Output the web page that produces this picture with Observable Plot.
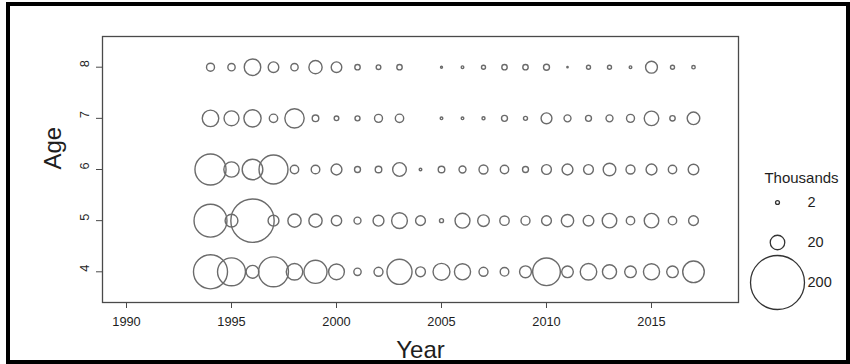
<!DOCTYPE html>
<html>
<head>
<meta charset="utf-8">
<script src="https://cdn.jsdelivr.net/npm/d3@7"></script>
<script src="https://cdn.jsdelivr.net/npm/@observablehq/plot@0.6"></script>
<style>
  html, body { margin: 0; padding: 0; background: #fff; }
  #wrap { position: relative; width: 850px; height: 364px; overflow: hidden; font-family: "Liberation Sans", Arial, sans-serif; }
  #wrap svg { position: absolute; top: 0; overflow: visible; }
  #border { position: absolute; left: 6px; top: 2px; right: 0; bottom: 0; border: 4px solid #000; box-sizing: border-box; pointer-events: none; }
</style>
</head>
<body>
<div id="wrap"><div id="border"></div></div>
<script>
// Survey years and catch at age (thousands of fish); null = no fish recorded
const years = [1994, 1995, 1996, 1997, 1998, 1999, 2000, 2001, 2002, 2003, 2004, 2005,
               2006, 2007, 2008, 2009, 2010, 2011, 2012, 2013, 2014, 2015, 2016, 2017];
const age4 = [89, 63, 16, 71, 25, 45, 23, 6, 8.6, 52, 10, 26, 24, 8.6, 8, 14, 62, 13.5, 25, 19, 13.5, 24, 13.5, 40];
const age5 = [84, 16, 136, 12, 17, 17, 11, 5.5, 12, 23, 10, 2.1, 21, 13.5, 9.3, 8.6, 10, 15, 11.5, 20, 7.6, 20, 7.6, 10];
const age6 = [76, 22, 37, 67, 7.6, 8, 12, 4.2, 5, 18, 1, 5, 5.5, 8.6, 7.6, 4.2, 10, 12, 10, 15.6, 8.6, 12, 7.6, 11.5];
const age7 = [25, 21, 27, 7.6, 33, 5, 2.7, 3.1, 7, 7.6, null, 1, 1, 1.3, 4.2, 2.1, 12, 5.5, 4.2, 5.5, 7, 20, 3.5, 15.6];
const age8 = [7, 6, 25, 11.5, 6, 17, 11.5, 3.5, 2.7, 3.5, null, 0.6, 1, 2.1, 3.5, 3.5, 4.2, 0.3, 2.1, 2.1, 1, 14, 2.1, 1.6];
const ages = [4, 5, 6, 7, 8];
const yearTicks = [1990, 1995, 2000, 2005, 2010, 2015];
const legendValues = [2, 20, 200];
const legendTitle = "Thousands";

const series = [age4, age5, age6, age7, age8];
const rows = [];
ages.forEach((age, i) => {
  years.forEach((year, j) => {
    const v = series[i][j];
    if (v != null) rows.push({year, age, value: v});
  });
});

const font = '"Liberation Sans", Arial, sans-serif';
const ink = "#1e1e1e";
const circleStroke = "#6b6b6b";
// bubble area grows a little faster than value, as in the source graphic
const rScale = {type: "pow", exponent: 0.57, domain: [0, 200], range: [0, 27]};

const main = Plot.plot({
  width: 850,
  height: 364,
  marginLeft: 102,
  marginRight: 112,
  marginTop: 36,
  marginBottom: 62,
  style: {fontFamily: font, color: ink, background: "transparent", overflow: "visible"},
  x: {domain: [1988.857, 2019.143]},
  y: {domain: [3.4, 8.6]},
  r: rScale,
  marks: [
    Plot.dot(rows, {x: "year", y: "age", r: "value", stroke: circleStroke, strokeWidth: 1.4, fill: "none"}),
    Plot.frame({stroke: "#4a4a4a", strokeWidth: 1.3}),
    Plot.axisX({ticks: yearTicks, tickSize: 6, tickPadding: 8, tickFormat: "d", label: null,
                fontSize: 12.8, stroke: "#4a4a4a"}),
    Plot.axisY({ticks: ages, tickSize: 6, tickFormat: () => "", label: null, stroke: "#4a4a4a"}),
    Plot.text(ages, {y: d => d, text: d => String(d), frameAnchor: "left", rotate: -90,
                     lineAnchor: "bottom", dx: -14, fontSize: 12.8, fill: ink}),
    Plot.text(["Year"], {text: d => d, frameAnchor: "bottom", lineAnchor: "bottom", dy: 55,
                         fontSize: 24, fill: ink}),
    Plot.text(["Age"], {text: d => d, frameAnchor: "left", rotate: -90, lineAnchor: "bottom",
                        dx: -42, fontSize: 24, fill: ink})
  ]
});
main.style.left = "0px";
document.getElementById("wrap").appendChild(main);

// Size key drawn with the same radius scale
const legend = Plot.plot({
  width: 130,
  height: 364,
  marginLeft: 57,
  marginRight: 0,
  marginTop: 182,
  marginBottom: 0,
  style: {fontFamily: font, color: ink, background: "transparent", overflow: "visible"},
  y: {type: "point", domain: legendValues, range: [202, 282], padding: 0, axis: null},
  r: rScale,
  marks: [
    Plot.dot(legendValues, {y: d => d, r: d => d, frameAnchor: "left", stroke: "#333", strokeWidth: 1.3, fill: "none"}),
    Plot.text(legendValues, {y: d => d, text: d => String(d), frameAnchor: "left", dx: 30,
                             textAnchor: "start", fontSize: 14.5, fill: ink}),
    Plot.text([legendTitle], {text: d => d, frameAnchor: "top-left", lineAnchor: "bottom",
                              textAnchor: "middle", dx: 24, fontSize: 15, fill: ink})
  ]
});
legend.style.left = "720px";
document.getElementById("wrap").appendChild(legend);
</script>
</body>
</html>
